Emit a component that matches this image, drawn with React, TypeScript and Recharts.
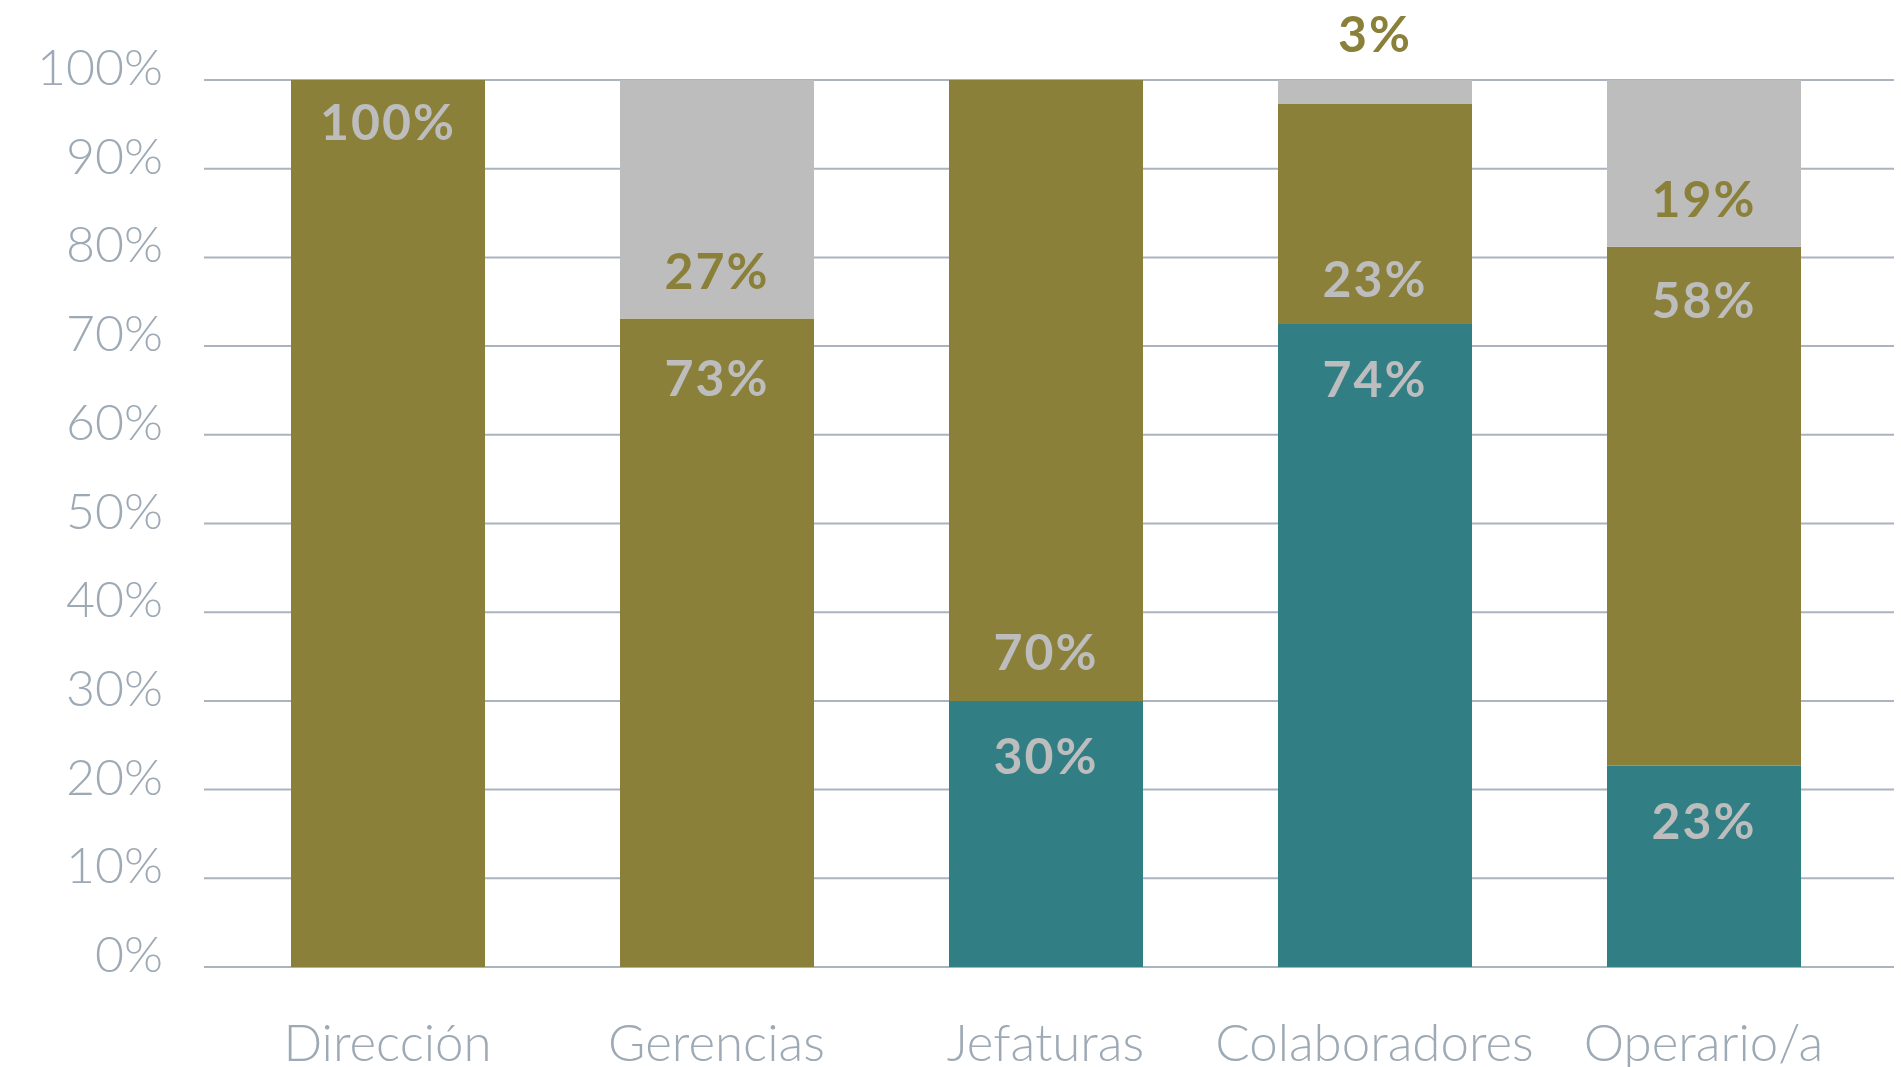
import { BarChart, Bar, XAxis, YAxis, CartesianGrid, LabelList } from 'recharts'

const categories = ['Dirección', 'Gerencias', 'Jefaturas', 'Colaboradores', 'Operario/a']
const tealValues = [0, 0, 30, 72.5, 22.7]
const oliveValues = [100, 73.1, 70, 24.8, 58.5]
const grayValues = [0, 26.9, 0, 2.7, 18.8]
const tealLabels = ['', '', '30%', '74%', '23%']
const oliveLabels = ['100%', '73%', '70%', '23%', '58%']
const grayLabels = ['', '27%', '', '3%', '19%']
const yTicks = [0, 10, 20, 30, 40, 50, 60, 70, 80, 90, 100]

// where the olive label sits: + from segment top, - from segment bottom
const oliveLabelOffset = [41, 58, -50, -46, 52]

const OLIVE = '#8B803A'
const TEAL = '#317F85'
const GRAY = '#BDBDBD'
const AXIS_TEXT = '#9DA9B4'
const GRID = '#A9B4BF'

const data = categories.map((name, i) => ({
  name,
  teal: tealValues[i],
  olive: oliveValues[i],
  gray: grayValues[i],
  tealLabel: tealLabels[i],
  oliveLabel: oliveLabels[i],
  grayLabel: grayLabels[i],
  oliveOffset: oliveLabelOffset[i],
}))

const labelStyle = { fontFamily: 'Lato, "Open Sans", sans-serif', fontWeight: 700, fontSize: 50, letterSpacing: 2 }

function makeLabel(kind: 'teal' | 'olive' | 'gray') {
  return (props: any) => {
    const { x, y, width, height, value } = props
    const text = value
    if (!text) return null
    const cx = Number(x) + Number(width) / 2
    let cy = 0
    let fill = GRAY
    if (kind === 'teal') {
      cy = Number(y) + 54
    } else if (kind === 'olive') {
      const row = data.find(d => d.oliveLabel === text)
      const off = row ? row.oliveOffset : 50
      cy = off >= 0 ? Number(y) + off : Number(y) + Number(height) + off
    } else {
      fill = OLIVE
      cy = Number(height) < 60 ? Number(y) - 47 : Number(y) + Number(height) - 49
    }
    return (
      <text x={cx} y={cy} textAnchor="middle" dominantBaseline="central" fill={fill} style={labelStyle}>
        {text}
      </text>
    )
  }
}

const YTick = (props: any) => {
  const { x, y, payload } = props
  return (
    <text x={x} y={y + 5} textAnchor="end" fill={AXIS_TEXT}
      style={{ fontFamily: 'Lato, "Open Sans", sans-serif', fontWeight: 300, fontSize: 50 }}>
      {payload.value}%
    </text>
  )
}

const XTick = (props: any) => {
  const { x, y, payload } = props
  return (
    <text x={x} y={y + 94} textAnchor="middle" fill={AXIS_TEXT}
      style={{ fontFamily: 'Lato, "Open Sans", sans-serif', fontWeight: 300, fontSize: 51 }}>
      {payload.value}
    </text>
  )
}

export default function App() {
  return (
    <div style={{ position: 'absolute', left: 0, top: 0, width: 1901, height: 1067, background: '#fff' }}>
      <BarChart width={1901} height={1067} data={data} margin={{ top: 80, right: 7, left: 0, bottom: 0 }}>
        <CartesianGrid vertical={false} stroke={GRID} strokeWidth={2} />
        <XAxis dataKey="name" axisLine={false} tickLine={false} tickSize={0} tickMargin={0}
          height={100} padding={{ left: 19, right: 26 }} tick={<XTick />} interval={0} />
        <YAxis type="number" domain={[0, 100]} ticks={yTicks} axisLine={false} tickLine={false}
          tickSize={0} tickMargin={41} width={204} tick={<YTick />} interval={0} />
        <Bar dataKey="teal" stackId="a" fill={TEAL} barSize={194} isAnimationActive={false}>
          <LabelList dataKey="tealLabel" content={makeLabel('teal')} />
        </Bar>
        <Bar dataKey="olive" stackId="a" fill={OLIVE} barSize={194} isAnimationActive={false}>
          <LabelList dataKey="oliveLabel" content={makeLabel('olive')} />
        </Bar>
        <Bar dataKey="gray" stackId="a" fill={GRAY} barSize={194} isAnimationActive={false}>
          <LabelList dataKey="grayLabel" content={makeLabel('gray')} />
        </Bar>
      </BarChart>
    </div>
  )
}
